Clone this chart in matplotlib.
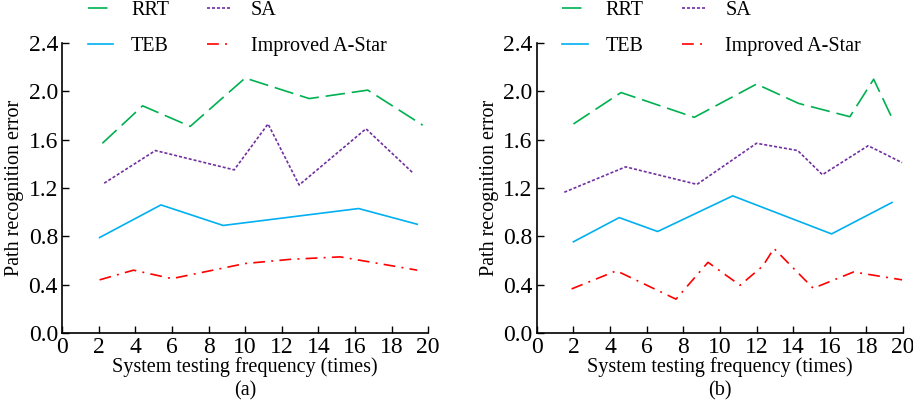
import matplotlib
matplotlib.use('Agg')
import matplotlib.pyplot as plt

plt.rcParams['font.family'] = ['Liberation Serif', 'DejaVu Serif']
plt.rcParams['font.size'] = 14.5
plt.rcParams['lines.scale_dashes'] = False

# (a) data
a_rrt_x = [2.2, 4.4, 7.0, 10.0, 13.5, 16.7, 19.7]
a_rrt_y = [1.57, 1.88, 1.71, 2.11, 1.94, 2.01, 1.72]
a_sa_x = [2.3, 5.1, 9.4, 11.25, 12.95, 16.6, 19.2]
a_sa_y = [1.24, 1.51, 1.35, 1.73, 1.225, 1.69, 1.32]
a_teb_x = [2.05, 5.4, 8.8, 16.2, 19.4]
a_teb_y = [0.79, 1.06, 0.89, 1.03, 0.90]
a_ast_x = [2.05, 3.9, 6.0, 10.0, 12.5, 15.2, 19.4]
a_ast_y = [0.44, 0.52, 0.45, 0.575, 0.61, 0.63, 0.52]

# (b) data
b_rrt_x = [2.0, 4.6, 8.6, 12.0, 14.3, 17.1, 18.4, 19.4]
b_rrt_y = [1.73, 1.99, 1.785, 2.06, 1.90, 1.79, 2.10, 1.78]
b_sa_x = [1.5, 4.85, 8.75, 12.0, 14.25, 15.6, 18.1, 19.95]
b_sa_y = [1.165, 1.375, 1.23, 1.57, 1.51, 1.31, 1.55, 1.41]
b_teb_x = [2.0, 4.5, 6.6, 10.7, 16.1, 19.4]
b_teb_y = [0.755, 0.955, 0.84, 1.135, 0.82, 1.08]
b_ast_x = [1.9, 4.35, 7.6, 9.35, 11.1, 12.35, 12.95, 15.1, 17.3, 19.95]
b_ast_y = [0.365, 0.515, 0.28, 0.585, 0.395, 0.555, 0.70, 0.37, 0.505, 0.44]

panels = [
    (a_rrt_x, a_rrt_y, a_sa_x, a_sa_y, a_teb_x, a_teb_y, a_ast_x, a_ast_y, '(a)'),
    (b_rrt_x, b_rrt_y, b_sa_x, b_sa_y, b_teb_x, b_teb_y, b_ast_x, b_ast_y, '(b)'),
]

fig = plt.figure(figsize=(9.13, 4.0), dpi=100)
lefts = [0.068, 0.588]
for left, p in zip(lefts, panels):
    ax = fig.add_axes([left, 0.1675, 0.401, 0.725])
    ax.plot(p[0], p[1], color='#00b050', lw=1.2, dashes=(14, 5), label='RRT')
    ax.plot(p[4], p[5], color='#00b0f0', lw=1.2, label='TEB')
    ax.plot(p[2], p[3], color='#7030a0', lw=1.2, dashes=(2.2, 1.4), label='SA')
    ax.plot(p[6], p[7], color='#ff0000', lw=1.2, dashes=(8.5, 4.5, 1.4, 4.5), label='Improved A-Star')
    ax.set_xlim(0, 20)
    ax.set_ylim(0, 2.4)
    ax.set_xticks(range(0, 21, 2))
    ax.set_yticks([0.0, 0.4, 0.8, 1.2, 1.6, 2.0, 2.4])
    ax.set_yticklabels(['0.0', '0.4', '0.8', '1.2', '1.6', '2.0', '2.4'])
    ax.spines['top'].set_visible(False)
    ax.spines['right'].set_visible(False)
    ax.spines['left'].set_linewidth(1.2)
    ax.spines['bottom'].set_linewidth(1.2)
    ax.tick_params(direction='in', length=5, width=1, pad=3, labelsize=17)
    ax.set_ylabel('Path recognition error', labelpad=3)
    ax.set_xlabel('System testing frequency (times)', labelpad=-1)
    ax.text(0.5, -0.168, p[8], transform=ax.transAxes, ha='center', va='top')
    ax.legend(loc='lower left', bbox_to_anchor=(0.07, 0.955), ncol=2, frameon=False,
              handlelength=1.25, handletextpad=0.9, columnspacing=1.9, labelspacing=0.85,
              borderaxespad=0, borderpad=0)

fig.savefig('out.png', dpi=100)
